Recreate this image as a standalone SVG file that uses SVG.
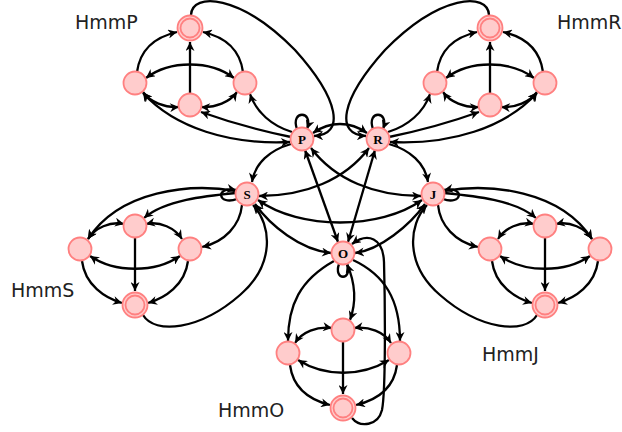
<svg xmlns="http://www.w3.org/2000/svg" width="622" height="432" viewBox="0 0 622 432">
<style>
.e{fill:none;stroke:#000;stroke-width:2.3;marker-end:url(#a)}
.b{marker-start:url(#a)}
.nd{fill:#ffcccc;stroke:#ff8080;stroke-width:1.8}
.hl{font-family:"Liberation Serif",serif;font-weight:bold;font-size:13px;text-anchor:middle}
.lb{font-family:"DejaVu Sans",sans-serif;font-size:19px;fill:#222}
</style>
<defs>
<marker id="a" viewBox="0 0 10 10" refX="10" refY="5" markerWidth="11" markerHeight="9" orient="auto-start-reverse" markerUnits="userSpaceOnUse"><path d="M0,0 L10,5 L0,10 L3,5 z" fill="#000"/></marker>
</defs>
<rect width="622" height="432" fill="#fff"/>
<g id="connectors">
<!-- HmmP -->
<path class="e" d="M137 72 C140 50 155 37 177 32"/>
<path class="e" d="M243 72 C240 50 225 37 203 32"/>
<path class="e" d="M190 94 L190 42"/>
<path class="e b" d="M146 78 C170 60 210 60 234 78"/>
<path class="e b" d="M143 92 C150 102 165 108 179 107"/>
<path class="e b" d="M237 92 C230 102 215 108 201 107"/>
<path class="e b" d="M290 142 C230 145 175 128 143 93"/>
<path class="e" d="M291 137 C262 131 226 121 201 112"/>
<path class="e" d="M292 132 C272 126 256 112 250 94"/>
<path class="e" d="M191 15 C192 -8 240 -6 295 50 C340 100 345 135 314 136"/>
<path class="e" d="M297 129 C290 110 314 110 307 129"/>
<!-- HmmR -->
<path class="e" d="M543 72 C540 50 525 37 503 32"/>
<path class="e" d="M437 72 C440 50 455 37 477 32"/>
<path class="e" d="M490 94 L490 42"/>
<path class="e b" d="M534 78 C510 60 470 60 446 78"/>
<path class="e b" d="M537 92 C530 102 515 108 501 107"/>
<path class="e b" d="M443 92 C450 102 465 108 479 107"/>
<path class="e b" d="M390 142 C450 145 505 128 537 93"/>
<path class="e" d="M389 137 C418 131 454 121 479 112"/>
<path class="e" d="M388 132 C408 126 424 112 430 94"/>
<path class="e" d="M489 15 C488 -8 440 -6 385 50 C340 100 335 135 366 136"/>
<path class="e" d="M373 129 C366 110 390 110 383 129"/>
<!-- hub -->
<path class="e b" d="M313 133 C330 121 350 121 367 133"/>
<path class="e" d="M291 144 C270 150 255 163 252 182"/>
<path class="e" d="M389 144 C410 150 425 163 428 182"/>
<path class="e b" d="M305 150 L338 242"/>
<path class="e b" d="M375 150 L348 242"/>
<path class="e b" d="M311 148 C335 180 375 196 421 196"/>
<path class="e b" d="M369 148 C345 180 305 196 259 196"/>
<path class="e b" d="M258 200 C300 230 380 230 422 200"/>
<path class="e b" d="M255 204 C270 225 300 250 331 253"/>
<path class="e b" d="M425 204 C410 225 380 250 355 253"/>
<path class="e" d="M237 199 C218 206 214 186 236 190"/>
<path class="e" d="M443 199 C462 206 466 186 444 190"/>
<path class="e" d="M339 264 C333 281 353 281 347 264"/>
<!-- HmmS -->
<path class="e b" d="M124 224 C110 221 95 228 88 239"/>
<path class="e b" d="M146 224 C160 221 175 228 182 239"/>
<path class="e b" d="M90 256 C115 273 155 273 180 256"/>
<path class="e" d="M135 238 L135 291"/>
<path class="e" d="M82 261 C85 285 105 298 122 303"/>
<path class="e" d="M188 261 C185 285 165 298 148 303"/>
<path class="e" d="M236 191 C190 183 120 190 88 239"/>
<path class="e" d="M236 193 C205 196 165 200 144 218"/>
<path class="e" d="M242 205 C240 225 225 242 202 247"/>
<path class="e" d="M143 315 C155 335 200 330 240 295 C275 265 272 225 253 205"/>
<!-- HmmJ -->
<path class="e b" d="M556 224 C570 221 585 228 592 239"/>
<path class="e b" d="M534 224 C520 221 505 228 498 239"/>
<path class="e b" d="M500 256 C525 273 565 273 590 256"/>
<path class="e" d="M545 238 L545 291"/>
<path class="e" d="M598 261 C595 285 575 298 558 303"/>
<path class="e" d="M492 261 C495 285 515 298 532 303"/>
<path class="e" d="M444 191 C490 183 560 190 592 239"/>
<path class="e" d="M444 193 C475 196 515 200 536 218"/>
<path class="e" d="M438 205 C440 225 455 242 478 247"/>
<path class="e" d="M537 315 C525 335 480 330 440 295 C405 265 408 225 427 205"/>
<!-- HmmO -->
<path class="e b" d="M332 328 C317 326 302 332 295 343"/>
<path class="e b" d="M354 328 C369 326 384 332 391 343"/>
<path class="e b" d="M298 360 C325 377 361 377 389 360"/>
<path class="e" d="M343 342 L343 394"/>
<path class="e" d="M290 365 C293 388 310 400 330 405"/>
<path class="e" d="M397 365 C394 388 377 400 356 405"/>
<path class="e" d="M334 261 C300 280 288 305 288 341"/>
<path class="e" d="M347 264 C354 280 358 298 350 320"/>
<path class="e" d="M353 260 C385 275 400 300 400 341"/>
<path class="e" d="M352 418 C360 428 378 426 382 410 C386 390 385 300 384 262 C383 238 368 232 352 244"/>
</g>
<g id="hub">
<g id="nP"><circle class="nd" cx="302" cy="139" r="11.5"/><text class="hl" x="302" y="143.5">P</text></g>
<g id="nR"><circle class="nd" cx="378" cy="139" r="11.5"/><text class="hl" x="378" y="143.5">R</text></g>
<g id="nS"><circle class="nd" cx="247" cy="194" r="11.5"/><text class="hl" x="247" y="198.5">S</text></g>
<g id="nJ"><circle class="nd" cx="433" cy="194" r="11.5"/><text class="hl" x="433" y="198.5">J</text></g>
<g id="nO"><circle class="nd" cx="343" cy="253" r="11.5"/><text class="hl" x="343" y="257.5">O</text></g>
</g>
<g id="HmmP">
<g id="p_f"><circle class="nd" cx="190" cy="28" r="12.5"/><circle class="nd" cx="190" cy="28" r="9.5"/></g>
<g id="p_l"><circle class="nd" cx="135" cy="83" r="11.5"/></g>
<g id="p_m"><circle class="nd" cx="190" cy="105" r="11.5"/></g>
<g id="p_r"><circle class="nd" cx="245" cy="83" r="11.5"/></g>
<text class="lb" x="75" y="29">HmmP</text>
</g>
<g id="HmmR">
<g id="r_f"><circle class="nd" cx="490" cy="28" r="12.5"/><circle class="nd" cx="490" cy="28" r="9.5"/></g>
<g id="r_l"><circle class="nd" cx="435" cy="83" r="11.5"/></g>
<g id="r_m"><circle class="nd" cx="490" cy="105" r="11.5"/></g>
<g id="r_r"><circle class="nd" cx="545" cy="83" r="11.5"/></g>
<text class="lb" x="557" y="29">HmmR</text>
</g>
<g id="HmmS">
<g id="s_t"><circle class="nd" cx="135" cy="226" r="11.5"/></g>
<g id="s_l"><circle class="nd" cx="80" cy="249" r="11.5"/></g>
<g id="s_r"><circle class="nd" cx="190" cy="249" r="11.5"/></g>
<g id="s_f"><circle class="nd" cx="135" cy="305" r="12.5"/><circle class="nd" cx="135" cy="305" r="9.5"/></g>
<text class="lb" x="11" y="297">HmmS</text>
</g>
<g id="HmmJ">
<g id="j_t"><circle class="nd" cx="545" cy="226" r="11.5"/></g>
<g id="j_l"><circle class="nd" cx="490" cy="249" r="11.5"/></g>
<g id="j_r"><circle class="nd" cx="600" cy="249" r="11.5"/></g>
<g id="j_f"><circle class="nd" cx="545" cy="305" r="12.5"/><circle class="nd" cx="545" cy="305" r="9.5"/></g>
<text class="lb" x="482" y="361">HmmJ</text>
</g>
<g id="HmmO">
<g id="o_t"><circle class="nd" cx="343" cy="330" r="11.5"/></g>
<g id="o_l"><circle class="nd" cx="288" cy="353" r="11.5"/></g>
<g id="o_r"><circle class="nd" cx="399" cy="353" r="11.5"/></g>
<g id="o_f"><circle class="nd" cx="343" cy="408" r="12.5"/><circle class="nd" cx="343" cy="408" r="9.5"/></g>
<text class="lb" x="218" y="417">HmmO</text>
</g>
</svg>
